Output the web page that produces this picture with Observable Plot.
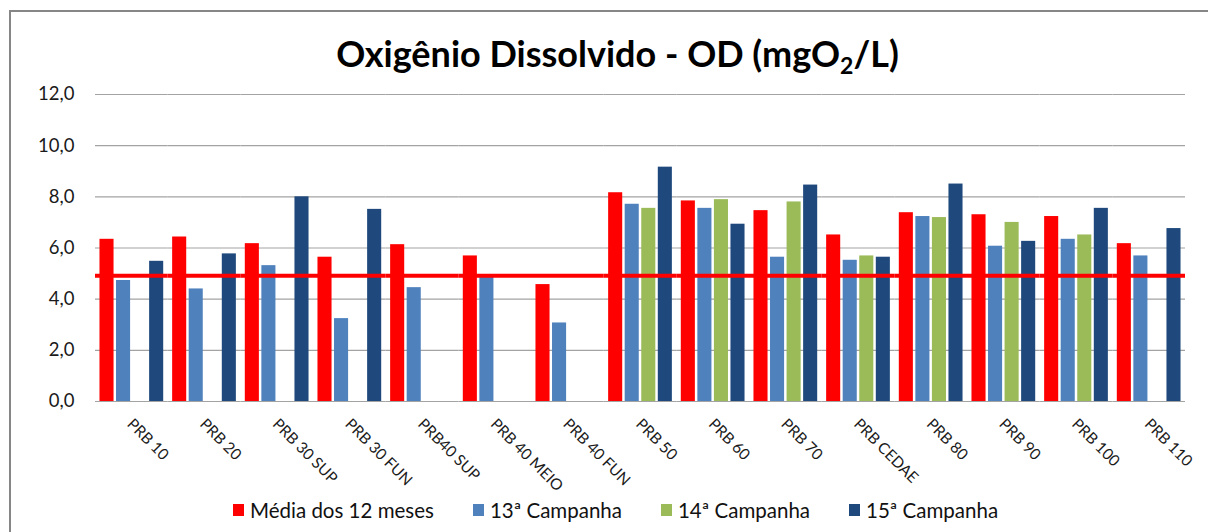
<!DOCTYPE html>
<html><head><meta charset="utf-8">
<script src="https://cdn.jsdelivr.net/npm/d3@7"></script>
<script src="https://cdn.jsdelivr.net/npm/@observablehq/plot@0.6"></script>
<style>
body{margin:0;background:#fff;}
#page{position:relative;width:1208px;height:532px;overflow:hidden;background:#fff;font-family:Lato,"Open Sans",sans-serif;}
#frame{position:absolute;left:9px;top:10px;width:1400px;height:700px;border-left:2px solid #868686;border-top:2px solid #868686;}
#title{position:absolute;left:330px;top:33px;width:575px;text-align:center;white-space:nowrap;font-size:36px;font-weight:bold;color:#000;line-height:40px;}
#title sub{font-size:23px;vertical-align:-7px;line-height:0;}
#plot{position:absolute;left:0;top:80px;}
#plot svg{display:block;}
#legend{position:absolute;left:233px;top:497px;height:26px;display:flex;align-items:center;font-size:20.5px;color:#111;white-space:nowrap;z-index:2;}
#legend .item{display:flex;align-items:center;margin-right:39px;}
#legend .sw{width:11px;height:12px;margin-right:6px;}
</style>
</head><body>
<div id="page">
  <div id="frame"></div>
  <div id="title">Oxigênio Dissolvido - OD (mgO<sub>2</sub>/L)</div>
  <div id="plot"></div>
  <div id="legend"></div>
</div>
<script>
const estacoes = ["PRB 10","PRB 20","PRB 30 SUP","PRB 30 FUN","PRB40 SUP","PRB 40 MEIO","PRB 40 FUN","PRB 50","PRB 60","PRB 70","PRB CEDAE","PRB 80","PRB 90","PRB 100","PRB 110"];
const series = ["Média dos 12 meses","13ª Campanha","14ª Campanha","15ª Campanha"];
const media  = [6.34,6.43,6.17,5.64,6.13,5.69,4.57,8.16,7.84,7.46,6.51,7.38,7.30,7.23,6.17];
const camp13 = [4.73,4.40,5.31,3.24,4.45,4.85,3.07,7.71,7.55,5.64,5.52,7.23,6.07,6.34,5.69];
const camp14 = [null,null,null,null,null,null,null,7.55,7.89,7.80,5.69,7.19,7.00,6.51,null];
const camp15 = [5.48,5.77,8.00,7.51,null,null,null,9.16,6.93,8.46,5.64,8.50,6.26,7.55,6.76];
const limite = [4.92];
const yTicks = [0,2,4,6,8,10,12];
const cores = ["#FF0000","#4F81BD","#9BBB59","#1F497D"];

const valores = [media, camp13, camp14, camp15];
const rows = [];
series.forEach((s, i) => {
  estacoes.forEach((e, j) => {
    const v = valores[i][j];
    if (v != null) rows.push({estacao: e, serie: s, valor: v});
  });
});

const fmt = d => d.toFixed(1).replace(".", ",");

const chart = Plot.plot({
  width: 1208,
  height: 440,
  marginLeft: 95,
  marginRight: 23,
  marginTop: 14,
  marginBottom: 119,
  style: {fontFamily: "Lato, 'Open Sans', sans-serif", color: "#1a1a1a", background: "transparent", overflow: "visible"},
  fx: {domain: estacoes, padding: 0, round: false, label: null},
  x: {domain: series, paddingInner: 0.15, paddingOuter: 0.27, round: false, axis: null},
  y: {domain: [0, 12], label: null},
  color: {domain: series, range: cores},
  marks: [
    Plot.ruleY(yTicks, {stroke: "#a3a3a3", strokeWidth: 1.2}),
    Plot.barY(rows, {fx: "estacao", x: "serie", y: "valor", fill: "serie"}),
    Plot.ruleY(limite, {stroke: "#FF0000", strokeWidth: 4}),
    Plot.axisY({ticks: yTicks, tickFormat: fmt, tickSize: 0, tickPadding: 21, fontSize: 18.5, label: null}),
    Plot.axisFx({anchor: "bottom", tickRotate: 45, tickSize: 0, tickPadding: 20, dx: -2, fontSize: 15.5, label: null})
  ]
});
document.getElementById("plot").appendChild(chart);

const legend = document.getElementById("legend");
series.forEach((s, i) => {
  const it = document.createElement("div");
  it.className = "item";
  const sw = document.createElement("span");
  sw.className = "sw";
  sw.style.background = cores[i];
  const tx = document.createElement("span");
  tx.textContent = s;
  it.appendChild(sw); it.appendChild(tx);
  legend.appendChild(it);
});
</script>
</body></html>
